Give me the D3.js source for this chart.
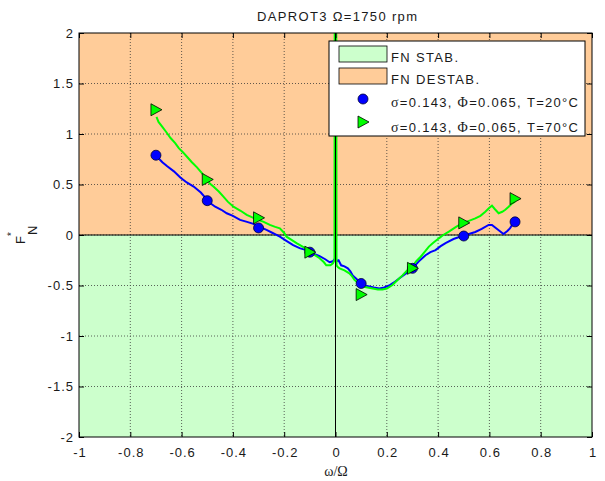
<!DOCTYPE html>
<html>
<head>
<meta charset="utf-8">
<script src="https://cdn.jsdelivr.net/npm/d3@7"></script>
<style>
  body { margin: 0; background: #fff; }
  svg { display: block; font-family: Arial, 'Liberation Sans', sans-serif; }
</style>
</head>
<body>
<svg id="chart" width="605" height="481"></svg>
<script>
const xTicks = [-1, -0.8, -0.6, -0.4, -0.2, 0, 0.2, 0.4, 0.6, 0.8, 1]
const yTicks = [-2, -1.5, -1, -0.5, 0, 0.5, 1, 1.5, 2]

// measured curve, T=20°C
const blueCurve = [
  [-0.69, 0.76], [-0.675, 0.72], [-0.656, 0.68], [-0.63, 0.63], [-0.605, 0.57], [-0.58, 0.52],
  [-0.553, 0.48], [-0.525, 0.42], [-0.501, 0.35], [-0.485, 0.31], [-0.469, 0.28], [-0.445, 0.25],
  [-0.424, 0.215], [-0.4, 0.19], [-0.372, 0.15], [-0.345, 0.13], [-0.32, 0.11], [-0.295, 0.08],
  [-0.269, 0.05], [-0.245, 0.02], [-0.217, -0.017], [-0.19, -0.06], [-0.165, -0.1], [-0.14, -0.13],
  [-0.114, -0.15], [-0.09, -0.18], [-0.062, -0.21], [-0.04, -0.24], [-0.023, -0.27], [-0.01, -0.26],
  [-0.003, -0.24], [0, -0.2], [0.004, -0.26], [0.012, -0.25], [0.022, -0.3], [0.035, -0.31],
  [0.048, -0.33], [0.058, -0.36], [0.067, -0.4], [0.08, -0.43], [0.096, -0.47], [0.115, -0.5],
  [0.132, -0.51], [0.15, -0.52], [0.171, -0.53], [0.19, -0.52], [0.209, -0.5], [0.228, -0.47],
  [0.248, -0.43], [0.275, -0.38], [0.3, -0.33], [0.325, -0.26], [0.351, -0.2], [0.37, -0.17],
  [0.39, -0.15], [0.41, -0.11], [0.429, -0.08], [0.46, -0.04], [0.494, -0.01], [0.52, 0.01],
  [0.545, 0.03], [0.57, 0.06], [0.597, 0.1], [0.61, 0.1], [0.62, 0.08], [0.64, 0.04],
  [0.655, 0.01], [0.67, 0.04], [0.68, 0.066], [0.694, 0.12]
]

// measured curve, T=70°C (spike at omega = 0 runs off the top)
const greenCurve = [
  [-0.698, 1.17], [-0.69, 1.12], [-0.675, 1.07], [-0.66, 1.02], [-0.643, 0.96], [-0.625, 0.91],
  [-0.611, 0.86], [-0.595, 0.82], [-0.579, 0.775], [-0.56, 0.72], [-0.54, 0.67], [-0.52, 0.61],
  [-0.504, 0.555], [-0.49, 0.51], [-0.476, 0.48], [-0.455, 0.43], [-0.437, 0.38], [-0.42, 0.33],
  [-0.398, 0.28], [-0.37, 0.24], [-0.346, 0.2], [-0.32, 0.17], [-0.301, 0.15], [-0.28, 0.13],
  [-0.256, 0.1], [-0.235, 0.08], [-0.217, 0.066], [-0.2, 0.02], [-0.191, -0.017], [-0.17, -0.05],
  [-0.152, -0.08], [-0.125, -0.12], [-0.1, -0.165], [-0.08, -0.2], [-0.062, -0.23], [-0.045, -0.27],
  [-0.036, -0.3], [-0.02, -0.3], [-0.01, -0.28], [-0.004, -0.25], [-0.003, 2.2], [0.003, 2.2],
  [0.004, -0.3], [0.01, -0.32], [0.016, -0.33], [0.035, -0.35], [0.054, -0.38], [0.065, -0.41],
  [0.074, -0.445], [0.09, -0.48], [0.106, -0.51], [0.125, -0.52], [0.145, -0.53], [0.165, -0.54],
  [0.183, -0.54], [0.2, -0.53], [0.222, -0.495], [0.24, -0.45], [0.261, -0.4], [0.28, -0.35],
  [0.3, -0.31], [0.315, -0.26], [0.332, -0.215], [0.35, -0.16], [0.364, -0.115], [0.38, -0.08],
  [0.403, -0.033], [0.42, 0], [0.442, 0.033], [0.47, 0.08], [0.494, 0.115], [0.52, 0.14],
  [0.545, 0.165], [0.565, 0.19], [0.584, 0.23], [0.6, 0.27], [0.61, 0.29], [0.62, 0.26],
  [0.636, 0.215], [0.65, 0.23], [0.662, 0.25], [0.675, 0.28], [0.687, 0.31], [0.7, 0.33]
]

const markerX = [-0.7, -0.5, -0.3, -0.1, 0.1, 0.3, 0.5, 0.7]
const blueMarkerY = [0.79, 0.34, 0.07, -0.17, -0.48, -0.33, -0.01, 0.13]
const greenMarkerY = [1.24, 0.55, 0.17, -0.17, -0.59, -0.33, 0.12, 0.36]

const stableBand = [-2, 0]
const destableBand = [0, 2]

const legendItems = [
  { kind: 'patch', color: '#ccffcc', label: 'FN STAB.' },
  { kind: 'patch', color: '#ffcc99', label: 'FN DESTAB.' },
  { kind: 'circle', color: '#0000ff', label: ['σ', '=0.143, ', 'Φ', '=0.065, T=20°C'] },
  { kind: 'tri', color: '#00ff00', label: ['σ', '=0.143, ', 'Φ', '=0.065, T=70°C'] }
]

const svg = d3.select('#chart')
const plotLeft = 79, plotRight = 592, plotTop = 33, plotBottom = 437

const x = d3.scaleLinear().domain([-1, 1]).range([plotLeft, plotRight])
const y = d3.scaleLinear().domain([-2, 2]).range([plotBottom, plotTop])

svg.append('defs').append('clipPath').attr('id', 'plot-clip')
  .append('rect')
  .attr('x', plotLeft).attr('y', plotTop)
  .attr('width', plotRight - plotLeft).attr('height', plotBottom - plotTop)

// stability bands
svg.append('rect')
  .attr('x', x(-1)).attr('y', y(stableBand[1]))
  .attr('width', x(1) - x(-1)).attr('height', y(stableBand[0]) - y(stableBand[1]))
  .attr('fill', '#ccffcc')
svg.append('rect')
  .attr('x', x(-1)).attr('y', y(destableBand[1]))
  .attr('width', x(1) - x(-1)).attr('height', y(destableBand[0]) - y(destableBand[1]))
  .attr('fill', '#ffcc99')

// dotted grid
const grid = svg.append('g').attr('stroke', '#333').attr('stroke-width', 0.9)
  .attr('stroke-dasharray', '1,2').attr('opacity', 0.85)
grid.selectAll('.gx').data(xTicks.slice(1, -1)).enter().append('line')
  .attr('x1', d => x(d)).attr('x2', d => x(d)).attr('y1', plotTop).attr('y2', plotBottom)
grid.selectAll('.gy').data(yTicks.slice(1, -1)).enter().append('line')
  .attr('y1', d => y(d)).attr('y2', d => y(d)).attr('x1', plotLeft).attr('x2', plotRight)

// band border
svg.append('line')
  .attr('x1', plotLeft).attr('x2', plotRight).attr('y1', y(0)).attr('y2', y(0))
  .attr('stroke', '#000').attr('stroke-width', 1.2)

const line = d3.line().x(d => x(d[0])).y(d => y(d[1]))
const plot = svg.append('g').attr('clip-path', 'url(#plot-clip)')

plot.append('path').datum(blueCurve).attr('d', line)
  .attr('fill', 'none').attr('stroke', '#0000ff').attr('stroke-width', 2)
plot.append('path').datum(greenCurve).attr('d', line)
  .attr('fill', 'none').attr('stroke', '#00ff00').attr('stroke-width', 2)

plot.append('line')
  .attr('x1', x(0)).attr('x2', x(0)).attr('y1', plotTop).attr('y2', plotBottom)
  .attr('stroke', '#000').attr('stroke-width', 1)

const triPath = 'M-5,-6L6,0L-5,6Z'

plot.selectAll('.bm').data(markerX).enter().append('circle')
  .attr('cx', d => x(d)).attr('cy', (d, i) => y(blueMarkerY[i])).attr('r', 5)
  .attr('fill', '#0000ff').attr('stroke', '#000033').attr('stroke-width', 0.8)
plot.selectAll('.gm').data(markerX).enter().append('path')
  .attr('d', triPath)
  .attr('transform', (d, i) => `translate(${x(d)},${y(greenMarkerY[i])})`)
  .attr('fill', '#00ff00').attr('stroke', '#000').attr('stroke-width', 0.8)

// axes, ticks inside on all four sides
const fmt = d => d3.format('')(d).replace('−', '-')
const axB = svg.append('g').attr('transform', `translate(0,${plotBottom})`)
  .call(d3.axisBottom(x).tickValues(xTicks).tickSize(-5).tickPadding(20).tickFormat(fmt))
svg.append('g').attr('transform', `translate(${plotLeft},0)`)
  .call(d3.axisLeft(y).tickValues(yTicks).tickSize(-5).tickPadding(5).tickFormat(fmt))
svg.append('g').attr('transform', `translate(0,${plotTop})`)
  .call(d3.axisTop(x).tickValues(xTicks).tickSize(-5).tickFormat(''))
svg.append('g').attr('transform', `translate(${plotRight},0)`)
  .call(d3.axisRight(y).tickValues(yTicks).tickSize(-5).tickFormat(''))

svg.selectAll('.domain').remove()
svg.selectAll('.tick line').attr('stroke', '#000')
svg.selectAll('.tick text').attr('fill', '#1a1a1a')
  .style('font-size', '13px').style('font-family', 'Arial, Liberation Sans, sans-serif')
  .style('letter-spacing', '1px')
axB.selectAll('text').attr('dy', '0').attr('dx', '0.5')

svg.append('rect')
  .attr('x', plotLeft).attr('y', plotTop).attr('width', plotRight - plotLeft).attr('height', plotBottom - plotTop)
  .attr('fill', 'none').attr('stroke', '#000').attr('stroke-width', 1)

// title and labels
const title = svg.append('text').attr('x', 257).attr('y', 21)
  .attr('textLength', 160).attr('lengthAdjust', 'spacing')
  .style('font-size', '13px').attr('fill', '#1a1a1a')
title.append('tspan').text('DAPROT3 ')
title.append('tspan').text('Ω')
title.append('tspan').text('=1750 rpm')

svg.append('text').attr('x', 336).attr('y', 476).attr('text-anchor', 'middle')
  .style('font-size', '14px').style('font-family', 'Liberation Serif, serif')
  .attr('fill', '#1a1a1a').text('ω/Ω')

const yl = svg.append('g').attr('transform', 'translate(25,244) rotate(-90)')
  .attr('fill', '#1a1a1a')
yl.append('text').attr('x', 0).attr('y', 0).style('font-size', '13px').text('F')
yl.append('text').attr('x', 8).attr('y', -10).style('font-size', '10px').text('*')
yl.append('text').attr('x', 9).attr('y', 12).style('font-size', '13px').text('N')

// legend
const lg = svg.append('g')
lg.append('rect').attr('x', 329).attr('y', 41).attr('width', 256).attr('height', 95)
  .attr('fill', '#fff').attr('stroke', '#000').attr('stroke-width', 1)

const rowY = [54, 76, 99, 122]
const rowBase = [62, 83.5, 107, 131.5]
const rowWidth = [67, 88, 187, 187]
legendItems.forEach((item, i) => {
  const cy = rowY[i]
  if (item.kind === 'patch') {
    lg.append('rect').attr('x', 339).attr('y', cy - 8).attr('width', 48).attr('height', 16)
      .attr('fill', item.color).attr('stroke', '#000').attr('stroke-width', 0.8)
  } else if (item.kind === 'circle') {
    lg.append('circle').attr('cx', 363).attr('cy', cy).attr('r', 5)
      .attr('fill', item.color).attr('stroke', '#000033').attr('stroke-width', 0.8)
  } else {
    lg.append('path').attr('d', triPath).attr('transform', `translate(363,${cy})`)
      .attr('fill', item.color).attr('stroke', '#000').attr('stroke-width', 0.8)
  }
  const t = lg.append('text').attr('x', 391).attr('y', rowBase[i])
    .attr('textLength', rowWidth[i]).attr('lengthAdjust', 'spacing')
    .style('font-size', '13px').attr('fill', '#1a1a1a')
  if (typeof item.label === 'string') {
    t.text(item.label)
  } else {
    item.label.forEach((s, k) => {
      const ts = t.append('tspan').text(s)
      if (k % 2 === 0) ts.style('font-family', 'Liberation Serif, serif').style('font-size', '14px')
    })
  }
})
</script>
</body>
</html>
